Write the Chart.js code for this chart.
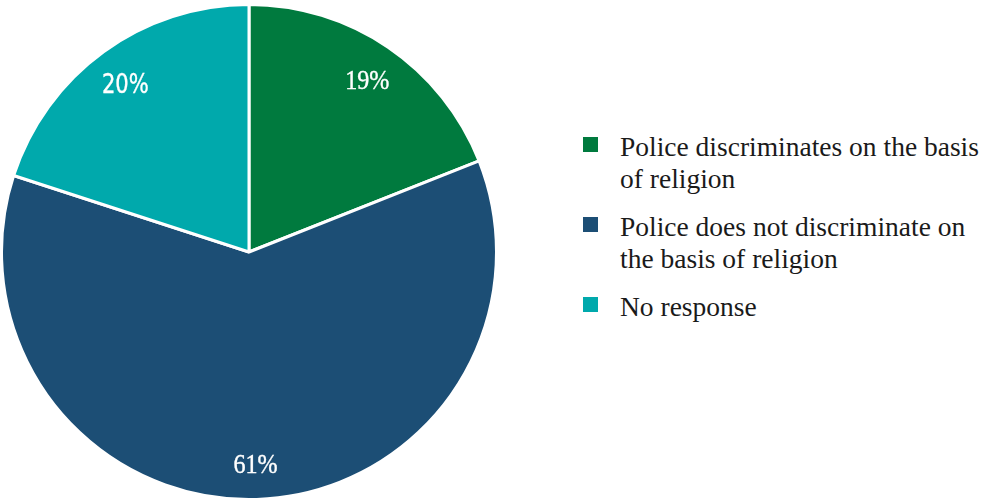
<!DOCTYPE html>
<html>
<head>
<meta charset="utf-8">
<script src="https://cdn.jsdelivr.net/npm/chart.js@4"></script>
<style>
  html, body { margin: 0; padding: 0; background: #fff; }
  #wrap { position: relative; width: 983px; height: 503px; }
  #pie { position: absolute; left: 0; top: 0; width: 498px; height: 503px; }
  #legend { position: absolute; left: 583px; top: 131px; font-family: "Liberation Serif", serif; font-size: 27.5px; color: #1a1a1a; }
  .item { position: relative; padding-left: 37px; line-height: 32px; margin-bottom: 16px; white-space: nowrap; }
  .sw { position: absolute; left: 0; top: 6px; width: 15px; height: 15px; }
</style>
</head>
<body>
<div id="wrap">
  <div id="pie"><canvas id="c"></canvas></div>
  <div id="legend"></div>
</div>
<script>
const categories = [
  ["Police discriminates on the basis", "of religion"],
  ["Police does not discriminate on", "the basis of religion"],
  ["No response"]
];
const values = [19, 61, 20];
const valueLabels = ["19%", "61%", "20%"];
const colors = ["#007A3E", "#1C4E75", "#00A9AC"];
const labelFonts = ['28px "Liberation Serif", serif', '28px "Liberation Serif", serif', '27px "DejaVu Sans", sans-serif'];
const labelSquash = [0.86, 0.86, 0.78];

const labelPlugin = {
  id: 'sliceLabels',
  afterDatasetsDraw(chart) {
    const ctx = chart.ctx;
    const meta = chart.getDatasetMeta(0);
    meta.data.forEach((arc, i) => {
      const mid = (arc.startAngle + arc.endAngle) / 2;
      const r = arc.outerRadius * 0.85;
      const x = arc.x + Math.cos(mid) * r;
      const y = arc.y + Math.sin(mid) * r;
      ctx.save();
      ctx.fillStyle = '#ffffff';
      ctx.strokeStyle = '#ffffff';
      ctx.lineWidth = 0.4;
      ctx.textAlign = 'center';
      ctx.textBaseline = 'alphabetic';
      ctx.font = labelFonts[i];
      ctx.translate(x, y);
      ctx.scale(labelSquash[i], 1);
      ctx.fillText(valueLabels[i], 0, 11);
      ctx.strokeText(valueLabels[i], 0, 11);
      ctx.restore();
    });
  }
};

new Chart(document.getElementById('c'), {
  type: 'pie',
  data: {
    labels: categories.map(c => c.join(' ')),
    datasets: [{
      data: values,
      backgroundColor: colors,
      borderColor: '#ffffff',
      borderWidth: 3
    }]
  },
  options: {
    responsive: true,
    maintainAspectRatio: false,
    animation: false,
    layout: { padding: { top: 3, bottom: 2, left: 0, right: 0 } },
    plugins: { legend: { display: false }, tooltip: { enabled: false } }
  },
  plugins: [labelPlugin]
});

const leg = document.getElementById('legend');
categories.forEach((lines, i) => {
  const d = document.createElement('div');
  d.className = 'item';
  const sw = document.createElement('span');
  sw.className = 'sw';
  sw.style.background = colors[i];
  d.appendChild(sw);
  lines.forEach((ln, j) => {
    if (j > 0) d.appendChild(document.createElement('br'));
    d.appendChild(document.createTextNode(ln));
  });
  leg.appendChild(d);
});
</script>
</body>
</html>
